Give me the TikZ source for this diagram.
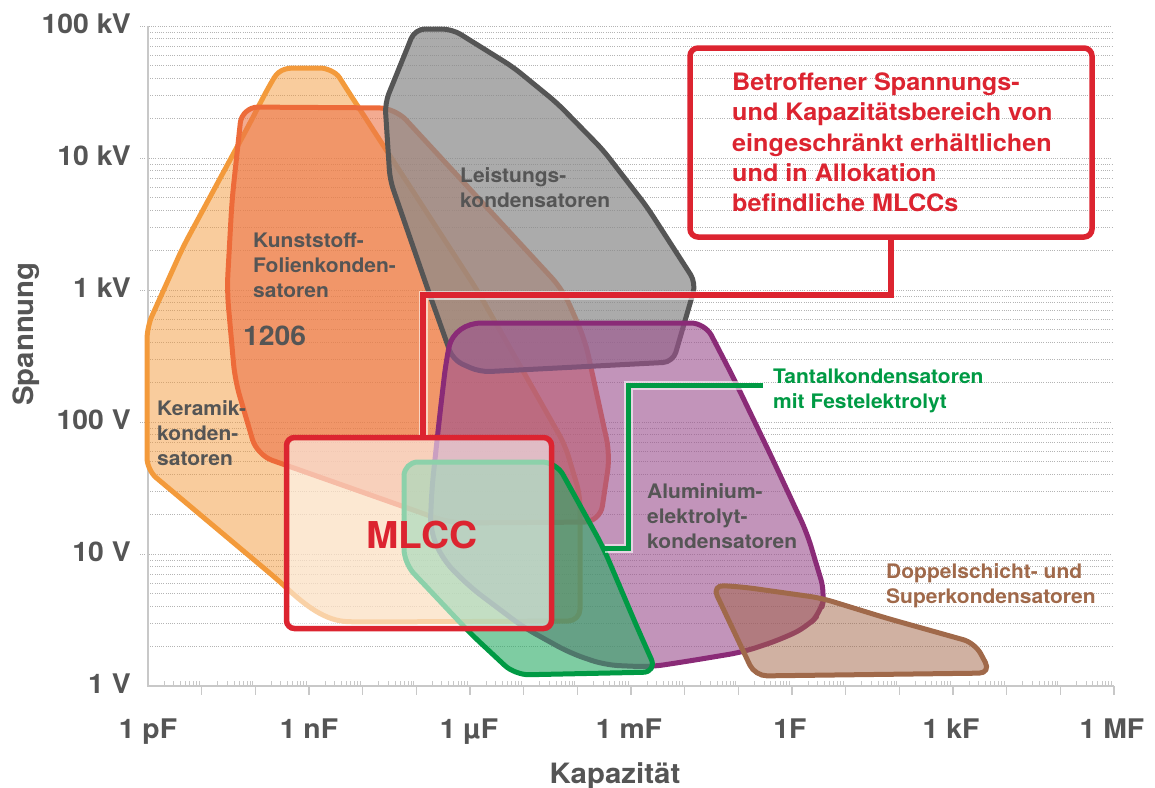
\documentclass[tikz,border=0pt]{standalone}
\usepackage{fontspec}
\setmainfont{TeX Gyre Heros}[FakeStretch=1.05]
\usetikzlibrary{calc}
\definecolor{txtgrey}{HTML}{555555}
\definecolor{axgrey}{HTML}{C8C8C8}
\definecolor{gridgrey}{HTML}{B4B4B4}
\definecolor{kerline}{HTML}{F39A3B}
\definecolor{kerfill}{HTML}{F39A3B}
\definecolor{kunline}{HTML}{ED6B3A}
\definecolor{kunfill}{HTML}{EB7347}
\definecolor{leiline}{HTML}{555555}
\definecolor{leifill}{HTML}{8A8A8A}
\definecolor{aluline}{HTML}{8A2B77}
\definecolor{alufill}{HTML}{9D528F}
\definecolor{tanline}{HTML}{009A44}
\definecolor{tanfill}{HTML}{28AA64}
\definecolor{dopline}{HTML}{A0694A}
\definecolor{dopfill}{HTML}{A16345}
\definecolor{mlred}{HTML}{DC2430}
\begin{document}
\begin{tikzpicture}[x=1pt,y=-1pt,
  gridline/.style={gridgrey,line width=0.9pt,dash pattern=on 1pt off 1.2pt},
  axisline/.style={axgrey,line width=1.6pt},
  ticklinestyle/.style={axgrey,line width=1.2pt},
  region/.style={line width=5pt,line join=round,rounded corners=12},
  ker/.style={region,draw=kerline,fill=kerfill,fill opacity=0.5},
  kun/.style={region,rounded corners=16,draw=kunline,fill=kunfill,fill opacity=0.6},
  lei/.style={region,rounded corners=10,draw=leiline,fill=leifill,fill opacity=0.72},
  alu/.style={region,rounded corners=14,draw=aluline,fill=alufill,fill opacity=0.62},
  tan/.style={region,rounded corners=14,draw=tanline,fill=tanfill,fill opacity=0.6},
  dop/.style={region,rounded corners=12,draw=dopline,fill=dopfill,fill opacity=0.5},
  redbox/.style={draw=mlred,line width=5.5pt,rounded corners=8,inner sep=0pt},
  ticklabel/.style={txtgrey,font=\fontsize{27}{31}\selectfont\bfseries,inner sep=0pt},
  axtitle/.style={txtgrey,font=\fontsize{28}{32}\selectfont\bfseries,inner sep=0pt},
  arealabel/.style={font=\fontsize{20}{25}\selectfont\bfseries,align=left,inner sep=0pt,anchor=north west},
  halo/.style={white,line width=9pt,opacity=0.6},
  redlink/.style={mlred,line width=5.5pt},
  greenlink/.style={tanline,line width=5pt}
]
\useasboundingbox (0,0) rectangle (1155,787);

% grid
\foreach \d in {0,...,4}{
  \foreach \m in {2,...,9}{
    \draw[gridline] (148,{686-132*(\d+log10(\m))}) -- (1112,{686-132*(\d+log10(\m))});
  }
  \draw[gridline] (140,{686-132*(\d+1)}) -- (1112,{686-132*(\d+1)});
}
% axes
\draw[axisline] (148,26) -- (148,686) -- (1114,686);
\foreach \k in {1,...,18}{
  \draw[ticklinestyle] ({148+53.667*\k},686) -- ++(0,9);
}
\foreach \k in {0,...,17}{
  \foreach \m in {2,...,9}{
    \draw[ticklinestyle,line width=0.9pt] ({148+53.667*(\k+log10(\m))},686) -- ++(0,-5);
  }
}

% regions
\draw[ker] (147,470) -- (147,327) -- (183,247) -- (250,123) -- (268,88) .. controls (280,68) and (290,68) .. (308,68) .. controls (326,68) and (336,72) .. (346,88) -- (477,290) -- (565,445) -- (580,495) -- (580,621) -- (360,622) .. controls (325,621) and (305,605) .. (278,580) -- cycle;
\draw[kun] (257,455) -- (235,380) -- (227,290) -- (232,200) -- (242,107) -- (395,108) -- (563,290) -- (585,340) -- (610,455) -- (600,522) -- (450,523) -- cycle;
\draw[lei] (385,103) -- (415,29) -- (452,29) -- (513,67) -- (557,103) -- (603,150) -- (647,207) -- (696,283) -- (673,362) -- (480,372) -- (453,360) -- (427,287) -- (390,180) -- cycle;
\draw[alu] (430,530) -- (432,487) -- (440,413) -- (446,362) .. controls (452,332) and (466,323) .. (496,323) -- (705,323) -- (733,377) -- (773,460) -- (807,533) -- (825,593) -- (821,612) -- (807,627) -- (779,640) -- (743,652) -- (689,661) -- (650,667) -- (605,665) -- (570,653) -- (523,627) -- (470,587) -- (443,560) -- cycle;
\draw[dop] (712,585) -- (743,587) -- (821,598) -- (886,618) -- (975,643) -- (991,673) -- (755,676) -- cycle;
\draw[tan] (404,520) -- (404,462) -- (556,462) -- (603,547) -- (637,627) -- (657,672) -- (515,675) -- (470,633) -- (404,563) -- cycle;

% MLCC box
\node[redbox,fill=white,fill opacity=0.55,minimum width=265pt,minimum height=191pt] (mlcc) at (419,533) {};
\node[mlred,font=\fontsize{37}{41}\selectfont\bfseries,inner sep=0pt,anchor=base west] (mlcctext) at (366,548) {MLCC};

% note box
\node[redbox,minimum width=402pt,minimum height=189pt] (note) at (891,142.5) {};
\node[arealabel,mlred,font=\fontsize{24}{30.3}\selectfont\bfseries] (notetext) at (732,72.5) {Betroffener Spannungs-\\und Kapazitätsbereich von\\eingeschränkt erhältlichen\\und in Allokation\\befindliche MLCCs};

% red connector
\coordinate (rc) at (423,295);
\draw[halo] (note.south) |- (rc) -- (rc |- mlcc.north);
\draw[redlink] (note.south) |- (rc) -- (rc |- mlcc.north);

% green connector
\node[arealabel,tanline] (tantal) at (773,368.5) {Tantalkondensatoren\\mit Festelektrolyt};
\coordinate (gc1) at (763,385);
\coordinate (gc2) at (628,548);
\coordinate (gend) at (605,548);
\draw[halo] (gc1) -| (gc2) -- (gend);
\draw[greenlink] (gc1) -| (gc2) -- (gend);

% area labels
\node[arealabel,txtgrey] (leistung) at (460,167.5) {Leistungs-\\kondensatoren};
\node[arealabel,txtgrey] (kunst) at (253,232.5) {Kunststoff-\\Folienkonden-\\satoren};
\node[txtgrey,font=\fontsize{27}{31}\selectfont\bfseries,inner sep=0pt,anchor=base west] (s1206) at (243,345) {1206};
\node[arealabel,txtgrey] (keramik) at (157,400.5) {Keramik-\\konden-\\satoren};
\node[arealabel,txtgrey] (alu) at (647,483.5) {Aluminium-\\elektrolyt-\\kondensatoren};
\node[arealabel,dopline] (dop) at (886,563.5) {Doppelschicht- und\\Superkondensatoren};

% axis labels
\node[ticklabel,anchor=base east] (y5) at (131,33.7) {100 kV};
\node[ticklabel,anchor=base east] (y4) at (131,165.7) {10 kV};
\node[ticklabel,anchor=base east] (y3) at (131,297.7) {1 kV};
\node[ticklabel,anchor=base east] (y2) at (131,429.7) {100 V};
\node[ticklabel,anchor=base east] (y1) at (131,561.7) {10 V};
\node[ticklabel,anchor=base east] (y0) at (131,693.7) {1 V};
\node[ticklabel,anchor=base] (x0) at (148,738) {1 pF};
\node[ticklabel,anchor=base] (x1) at (309,738) {1 nF};
\node[ticklabel,anchor=base] (x2) at (469,738) {1 µF};
\node[ticklabel,anchor=base] (x3) at (629,738) {1 mF};
\node[ticklabel,anchor=base] (x4) at (790,738) {1F};
\node[ticklabel,anchor=base] (x5) at (951,738) {1 kF};
\node[ticklabel,anchor=base] (x6) at (1112,738) {1 MF};
\node[axtitle,anchor=base] (xt) at (615,783) {Kapazität};
\node[axtitle,anchor=base,rotate=90] (yt) at (33,334) {Spannung};
\end{tikzpicture}
\end{document}
